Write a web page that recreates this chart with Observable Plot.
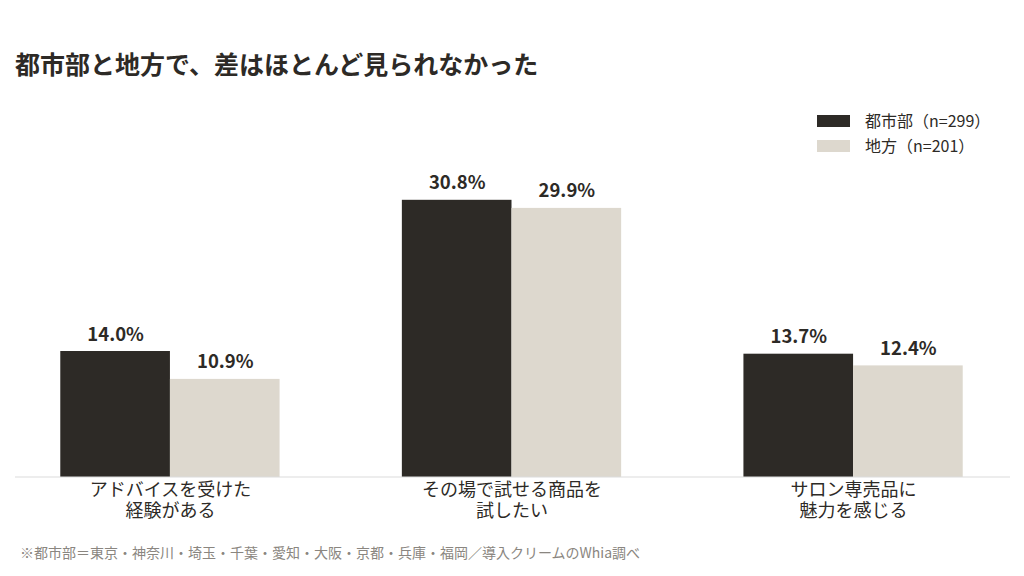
<!DOCTYPE html>
<html><head><meta charset="utf-8">
<script src="https://cdn.jsdelivr.net/npm/d3@7"></script>
<script src="https://cdn.jsdelivr.net/npm/@observablehq/plot@0.6"></script>
<style>
body{margin:0;background:#fff;font-family:"Noto Sans CJK JP","Noto Sans",sans-serif;color:#2d2a26;}
#wrap{position:relative;width:1024px;height:576px;overflow:hidden;}
#title{position:absolute;left:15px;top:48px;font-size:25px;font-weight:bold;line-height:30px;}
#legend{position:absolute;left:817px;top:108px;font-size:16px;line-height:25px;}
#legend div{display:flex;align-items:center;height:25px;}
#legend span.sw{display:inline-block;width:33px;height:12px;margin-right:15px;}
#chart{position:absolute;left:0;top:90px;}
#note{position:absolute;left:20px;top:542px;font-size:14px;color:#8a8680;line-height:20px;}
</style></head>
<body><div id="wrap">
<div id="title"></div>
<div id="legend"></div>
<div id="chart"></div>
<div id="note"></div>
</div>
<script>
const titleText = "都市部と地方で、差はほとんど見られなかった";
const noteText = "※都市部＝東京・神奈川・埼玉・千葉・愛知・大阪・京都・兵庫・福岡／導入クリームのWhia調べ";
const categories = ["アドバイスを受けた\n経験がある", "その場で試せる商品を\n試したい", "サロン専売品に\n魅力を感じる"];
const series = ["都市部（n=299）", "地方（n=201）"];
const urban = [14.0, 30.8, 13.7];
const rural = [10.9, 29.9, 12.4];
const colors = ["#2d2a26", "#ddd8ce"];

document.getElementById("title").textContent = titleText;
document.getElementById("note").textContent = noteText;
const legend = document.getElementById("legend");
series.forEach((s, i) => {
  const row = document.createElement("div");
  const sw = document.createElement("span");
  sw.className = "sw"; sw.style.background = colors[i];
  row.appendChild(sw);
  row.appendChild(document.createTextNode(s));
  legend.appendChild(row);
});

const data = [];
categories.forEach((c, i) => {
  data.push({cat: c, series: series[0], value: urban[i]});
  data.push({cat: c, series: series[1], value: rural[i]});
});

const W = 1024;
const chart = Plot.plot({
  width: W,
  height: 440,
  marginLeft: 14,
  marginRight: 15,
  marginTop: 72,
  marginBottom: 53,
  style: {fontFamily: '"Noto Sans CJK JP","Noto Sans",sans-serif', color: "#2d2a26", background: "transparent"},
  fx: {domain: categories, paddingInner: 0.358, paddingOuter: 0.1355, round: false, label: null},
  x: {domain: series, padding: 0, round: false, axis: null},
  y: {domain: [0, 35], axis: null},
  color: {domain: series, range: colors},
  marks: [
    Plot.barY(data, {fx: "cat", x: "series", y: "value", fill: "series"}),
    Plot.text(data, {fx: "cat", x: "series", y: "value", text: d => d.value.toFixed(1) + "%", lineAnchor: "bottom", dy: -11, fontSize: 18.5, fontWeight: "bold", fill: "#2d2a26"}),
    Plot.axisFx({anchor: "bottom", tickSize: 0, tickPadding: 3, fontSize: 18, lineHeight: 1.2, label: null, fill: "#2d2a26"})
  ]
});
// baseline across the full frame, positioned by the y scale
const y0 = chart.scale("y").apply(0);
const line = d3.create("svg:line")
  .attr("x1", 15).attr("x2", 1010)
  .attr("y1", y0).attr("y2", y0)
  .attr("stroke", "#dcdcdc").attr("stroke-width", 1.2);
chart.appendChild(line.node());
document.getElementById("chart").appendChild(chart);
</script>
</body></html>
